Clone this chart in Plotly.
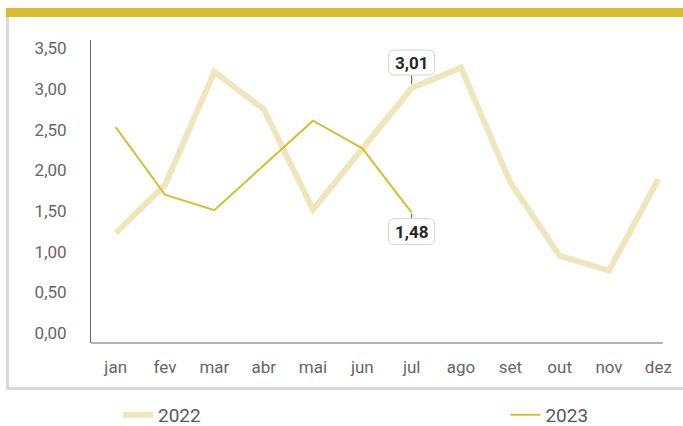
import plotly.graph_objects as go

# monthly values
meses = ["jan", "fev", "mar", "abr", "mai", "jun", "jul", "ago", "set", "out", "nov", "dez"]
v2022 = [1.23, 1.82, 3.21, 2.75, 1.52, 2.27, 3.01, 3.26, 1.85, 0.95, 0.77, 1.89]
v2023 = [2.53, 1.70, 1.51, 2.06, 2.61, 2.27, 1.48]
y_ticks = [0, 0.5, 1, 1.5, 2, 2.5, 3, 3.5]

FONT = "Roboto, sans-serif"
GOLD = "#d8be2e"
PALE = "#f0e6bd"
GRID = "#d9d9d9"

def br(v):
    return f"{v:.2f}".replace(".", ",")

def rounded(x0, y0, x1, y1, r=6):
    return (f"M{x0+r},{y0} L{x1-r},{y0} Q{x1},{y0} {x1},{y0+r} L{x1},{y1-r} "
            f"Q{x1},{y1} {x1-r},{y1} L{x0+r},{y1} Q{x0},{y1} {x0},{y1-r} "
            f"L{x0},{y0+r} Q{x0},{y0} {x0+r},{y0} Z")

fig = go.Figure()
fig.add_trace(go.Scatter(x=meses, y=v2022, name="2022", mode="lines",
                         line=dict(color=PALE, width=6), legend="legend"))
fig.add_trace(go.Scatter(x=meses[:len(v2023)], y=v2023, name="2023", mode="lines",
                         line=dict(color=GOLD, width=2), legend="legend2"))

# data labels (jul): rounded box + short connector, sized in pixels around the point
for y, b0, b1, c0 in [(v2022[6], 13, 38, 4), (v2023[6], -32, -6, -1)]:
    cx = b0 if b0 > 0 else b1
    fig.add_shape(type="line", xref="x", yref="y", xsizemode="pixel", ysizemode="pixel",
                  xanchor=meses[6], yanchor=y, x0=0, x1=0, y0=c0, y1=cx,
                  line=dict(color="#555", width=1))
    fig.add_shape(type="path", xref="x", yref="y", xsizemode="pixel", ysizemode="pixel",
                  xanchor=meses[6], yanchor=y, path=rounded(-23, b0, 23, b1),
                  fillcolor="white", line=dict(color="#d3d3d3", width=1))
    fig.add_annotation(x=meses[6], y=y, text=f"<b>{br(y)}</b>", showarrow=False,
                       yshift=(b0 + b1) / 2, font=dict(family=FONT, size=17, color="#262626"))

# panel decoration: gold top bar, grey left/bottom border, x-axis line
fig.add_shape(type="rect", xref="paper", yref="paper", x0=-0.144, x1=1.0,
              y0=1.0759, y1=1.1056, fillcolor=GOLD, line_width=0, layer="below")
fig.add_shape(type="rect", xref="paper", yref="paper", x0=-0.1436, x1=-0.1385,
              y0=-0.155, y1=1.0759, fillcolor=GRID, line_width=0, layer="below")
fig.add_shape(type="rect", xref="paper", yref="paper", x0=-0.1436, x1=1.0,
              y0=-0.155, y1=-0.1452, fillcolor=GRID, line_width=0, layer="below")
fig.add_shape(type="line", xref="paper", yref="paper", x0=0, x1=0.966,
              y0=0, y1=0, line=dict(color="#666", width=1))

leg = dict(orientation="h", y=-0.2376, yanchor="middle", xanchor="left",
           bgcolor="rgba(0,0,0,0)", font=dict(family=FONT, size=19, color="#595959"))

fig.update_layout(
    width=683, height=426,
    margin=dict(l=91, r=0, t=40, b=83, autoexpand=False),
    paper_bgcolor="white", plot_bgcolor="white",
    font=dict(family=FONT, size=17, color="#666"),
    showlegend=True,
    legend=dict(leg, x=0.0456),
    legend2=dict(leg, x=0.7),
    xaxis=dict(range=[-0.5, 11.5], showgrid=False, showline=False, zeroline=False,
               ticks="", ticklabelstandoff=12, tickfont=dict(size=17, color="#666")),
    yaxis=dict(range=[-0.12, 3.6], tickvals=y_ticks, ticktext=[br(t) for t in y_ticks],
               showgrid=False, zeroline=False, showline=True, linecolor="#666", linewidth=1,
               ticks="", ticklabelstandoff=20, tickfont=dict(size=17, color="#666")),
)

fig.write_html("out.html", config={"displayModeBar": False},
               post_script="document.body.style.margin='0';")
